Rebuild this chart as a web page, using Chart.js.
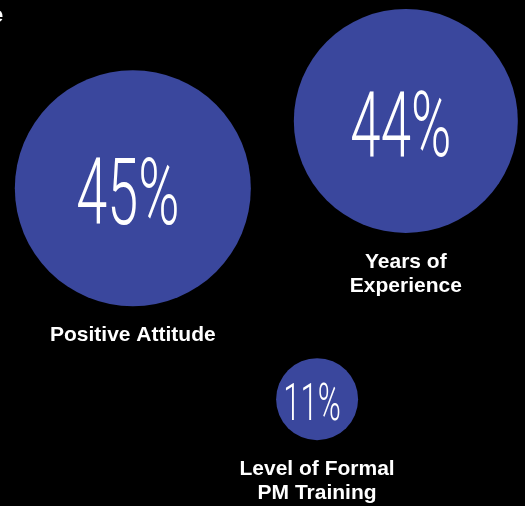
<!DOCTYPE html>
<html>
<head>
<meta charset="utf-8">
<script src="https://cdn.jsdelivr.net/npm/chart.js@4"></script>
<style>
  html, body { margin: 0; padding: 0; background: #000; }
  canvas { display: block; }
</style>
</head>
<body>
<canvas id="skillsBubble" width="525" height="506"></canvas>
<script>
// data
var categories = [['Positive Attitude'], ['Years of', 'Experience'], ['Level of Formal', 'PM Training']];
var shares = [45, 44, 11];          // percent shown in each bubble
var bubbleX = [25.3, 77.3, 60.4];   // x position (0-100)
var bubbleY = [62.8, 76.1, 21.1];   // y position (0-100)
var bubbleR = [118, 112, 41];       // bubble size

var points = shares.map(function (v, i) {
    return { x: bubbleX[i], y: bubbleY[i], r: bubbleR[i], v: v };
});

var pctFontSize = [93, 91, 52];

// draws the percent inside each bubble and the caption underneath
var bubbleText = {
    id: 'bubbleText',
    beforeDraw: function (chart) {
        var ctx = chart.ctx;
        ctx.save();
        ctx.fillStyle = '#000';
        ctx.fillRect(0, 0, chart.width, chart.height);
        ctx.restore();
    },
    afterDatasetsDraw: function (chart) {
        var ctx = chart.ctx;
        var meta = chart.getDatasetMeta(0);
        ctx.save();
        ctx.fillStyle = '#fff';
        // cut off heading letter in the corner
        ctx.font = 'bold 22px "Liberation Sans", Arial, sans-serif';
        ctx.textAlign = 'left';
        ctx.textBaseline = 'alphabetic';
        ctx.fillText('e', -9, 22);

        meta.data.forEach(function (el, i) {
            var fs = pctFontSize[i];
            var txt = shares[i] + '%';
            ctx.save();
            ctx.font = '300 ' + fs + 'px Roboto, "DejaVu Sans", sans-serif';
            ctx.textAlign = 'center';
            ctx.textBaseline = 'alphabetic';
            ctx.translate(el.x - 5, el.y + fs * 0.36 + 2);
            ctx.scale(0.6, 1);
            ctx.fillText(txt, 0, 0);
            ctx.restore();

            ctx.font = 'bold 21px "Liberation Sans", Arial, sans-serif';
            ctx.textAlign = 'center';
            var base = el.y + bubbleR[i] + 35;
            categories[i].forEach(function (line, j) {
                ctx.fillText(line, el.x, base + j * 24);
            });
        });
        ctx.restore();
    }
};

var ctx = document.getElementById('skillsBubble').getContext('2d');
var chart = new Chart(ctx, {
    type: 'bubble',
    data: {
        datasets: [{
            label: 'Skills',
            data: points,
            backgroundColor: '#3A479D',
            borderWidth: 0,
            hoverRadius: 0,
            clip: false
        }]
    },
    options: {
        responsive: false,
        animation: false,
        devicePixelRatio: 1,
        layout: { padding: 0, autoPadding: false },
        scales: {
            x: { display: false, min: 0, max: 100 },
            y: { display: false, min: 0, max: 100 }
        },
        plugins: {
            legend: { display: false },
            tooltip: { enabled: false }
        }
    },
    plugins: [bubbleText]
});
</script>
</body>
</html>
